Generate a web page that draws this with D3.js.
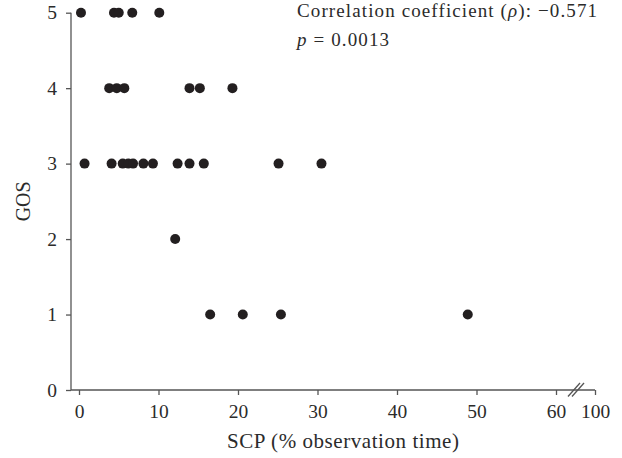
<!DOCTYPE html>
<html lang="en">
<head>
    <meta charset="UTF-8">
    <title>GOS vs SCP</title>
    <script src="https://d3js.org/d3.v7.min.js"></script>
    <style>
        body {
            margin: 0;
            background: white;
        }
        svg {
            display: block;
            font-family: "Liberation Serif", "DejaVu Serif", serif;
        }
        .axis path, .axis line {
            stroke: #555;
            stroke-width: 1.3px;
        }
        .axis text {
            font-size: 19.5px;
            fill: #2b2b2b;
            font-family: "Liberation Serif", serif;
        }
        .dot {
            fill: #231f20;
        }
        .label {
            fill: #2b2b2b;
        }
    </style>
</head>
<body>
    <script>
        // SCP (% observation time) and GOS for each patient
        const scp = [0.25, 4.4, 5.0, 6.7, 10.1,
                     3.8, 4.75, 5.7, 13.9, 15.2, 19.3,
                     0.7, 4.1, 5.5, 6.2, 6.8, 8.1, 9.3, 12.4, 13.9, 15.7, 25.1, 30.5,
                     12.1,
                     16.5, 20.6, 25.4, 48.9];
        const gos = [5, 5, 5, 5, 5,
                     4, 4, 4, 4, 4, 4,
                     3, 3, 3, 3, 3, 3, 3, 3, 3, 3, 3, 3,
                     2,
                     1, 1, 1, 1];
        const xTicks = [0, 10, 20, 30, 40, 50, 60, 100];
        const yTicks = [0, 1, 2, 3, 4, 5];

        const width = 622, height = 458;
        const svg = d3.select("body")
            .append("svg")
            .attr("width", width)
            .attr("height", height);

        // broken x axis: 0-60 linear, then jump to 100
        const x = d3.scaleLinear()
            .domain([0, 60, 100])
            .range([79, 556, 595]);
        const y = d3.scaleLinear()
            .domain([0, 5])
            .range([390, 12.7]);

        const axisLeftX = 71;

        // y axis
        const yAxis = svg.append("g")
            .attr("class", "axis")
            .attr("transform", `translate(${axisLeftX},0)`)
            .call(d3.axisLeft(y).tickValues(yTicks).tickSize(5).tickPadding(9).tickFormat(d3.format("d")));
        yAxis.select(".domain").remove();
        yAxis.append("line")
            .attr("y1", y(0)).attr("y2", y(5));

        // x axis
        const xAxis = svg.append("g")
            .attr("class", "axis")
            .attr("transform", `translate(0,${y(0)})`)
            .call(d3.axisBottom(x).tickValues(xTicks).tickSize(5).tickPadding(9).tickFormat(d3.format("d")));
        xAxis.select(".domain").remove();
        xAxis.append("line")
            .attr("x1", axisLeftX).attr("x2", x(100));

        // break marks
        const bx = (x(60) + x(100)) / 2 + 0.5;
        [-2, 2].forEach(off => {
            xAxis.append("line")
                .attr("x1", bx + off - 6).attr("y1", 6.5)
                .attr("x2", bx + off + 6).attr("y2", -7);
        });

        // points
        svg.selectAll(".dot")
            .data(scp.map((d, i) => [d, gos[i]]))
            .enter()
            .append("circle")
            .attr("class", "dot")
            .attr("cx", d => x(d[0]))
            .attr("cy", d => y(d[1]))
            .attr("r", 5);

        // axis titles
        svg.append("text")
            .attr("class", "label")
            .attr("transform", `translate(30,${y(2.5)}) rotate(-90)`)
            .attr("text-anchor", "middle")
            .style("font-size", "20px")
            .text("GOS");

        svg.append("text")
            .attr("class", "label")
            .attr("x", 343)
            .attr("y", 447.5)
            .attr("text-anchor", "middle")
            .style("font-size", "21px")
            .attr("textLength", 232)
            .text("SCP (% observation time)");

        // annotation
        const note = svg.append("text")
            .attr("class", "label")
            .attr("x", 297)
            .attr("y", 17.3)
            .style("font-size", "19px")
            .attr("textLength", 300);
        note.append("tspan").text("Correlation coefficient (");
        note.append("tspan").style("font-style", "italic").text("ρ");
        note.append("tspan").text("): −0.571");

        const note2 = svg.append("text")
            .attr("class", "label")
            .attr("x", 297)
            .attr("y", 46)
            .style("font-size", "19px")
            .attr("textLength", 92);
        note2.append("tspan").style("font-style", "italic").text("p");
        note2.append("tspan").text(" = 0.0013");
    </script>
</body>
</html>
